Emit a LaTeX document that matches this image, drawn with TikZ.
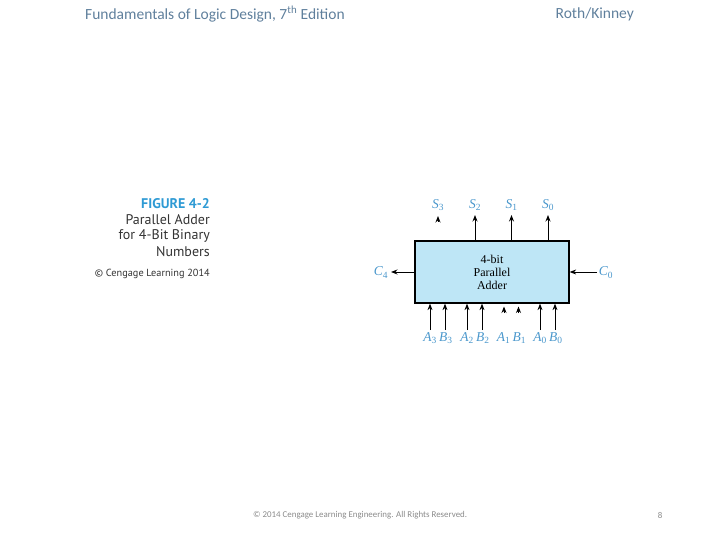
\documentclass[tikz,border=0pt]{standalone}
\usepackage{fontspec}
\setmainfont{Liberation Serif}
\newfontfamily\hdrfont{Carlito}
\newfontfamily\capfont{PT Sans}
\usetikzlibrary{arrows.meta}
\definecolor{hdrblue}{HTML}{5F7F9C}
\definecolor{lblblue}{HTML}{4A97CC}
\definecolor{figblue}{HTML}{2E9AD4}
\definecolor{boxfill}{HTML}{BEE6F6}
\definecolor{capgray}{HTML}{333333}
\definecolor{footgray}{HTML}{8A8A8A}
\newcommand{\sig}[2]{\textit{#1}\textsubscript{#2}}
\tikzset{
  arr/.style={-{Stealth[length=6.5pt,width=5pt]}, line width=0.9pt},
  lbl/.style={text=lblblue, font=\fontsize{13.5}{15}\selectfont, inner sep=0pt},
  hdr/.style={text=hdrblue, font=\hdrfont\fontsize{15.5}{17}\selectfont, inner sep=0pt},
  captext/.style={text=capgray, font=\capfont\fontsize{14}{16}\selectfont, inner sep=0pt, anchor=east},
  foot/.style={text=footgray, font=\hdrfont\fontsize{8.9}{10}\selectfont, inner sep=0pt},
  adder/.style={draw=black, line width=1.3pt, fill=boxfill, minimum width=154pt, minimum height=62pt, inner sep=0pt, align=center, font=\fontsize{12}{13}\selectfont}
}
\begin{document}
\begin{tikzpicture}[x=1pt,y=-1pt]
\useasboundingbox (0,0) rectangle (720,540);
% header and footer
\node[hdr, anchor=west] (title) at (85,14) {Fundamentals of Logic Design, 7\textsuperscript{th} Edition};
\node[hdr, anchor=east] (auth) at (634,14) {Roth/Kinney};
\node[foot, anchor=west] (copy) at (253,515) {© 2014 Cengage Learning Engineering. All Rights Reserved.};
\node[foot] (page) at (660,515) {8};
% caption
\node[captext, text=figblue, font=\capfont\bfseries\fontsize{14}{16}\selectfont] (fig) at (210,204) {FIGURE 4-2};
\node[captext] (c1) at (210,220) {Parallel Adder};
\node[captext] (c2) at (210,236) {for 4-Bit Binary};
\node[captext] (c3) at (210,252) {Numbers};
\node[captext, font=\capfont\fontsize{10.3}{12}\selectfont] (c4) at (210,274) {© Cengage Learning 2014};
% adder box
\node[adder] (box) at (492,272) {4-bit\\Parallel\\Adder};
% sum outputs
\coordinate (s3b) at (438,222);
\coordinate (s3t) at (438,216);
\coordinate (s2t) at (475,215);
\coordinate (s1t) at (511.5,215);
\coordinate (s0t) at (548,215);
\draw[arr] (s3b) -- (s3t);
\draw[arr] (box.north -| s2t) -- (s2t);
\draw[arr] (box.north -| s1t) -- (s1t);
\draw[arr] (box.north -| s0t) -- (s0t);
\node[lbl] (ls3) at (438,205) {\sig{S}{3}};
\node[lbl] (ls2) at (475,205) {\sig{S}{2}};
\node[lbl] (ls1) at (511.5,205) {\sig{S}{1}};
\node[lbl] (ls0) at (548,205) {\sig{S}{0}};
% carries
\coordinate (c4e) at (391,272);
\coordinate (c0s) at (597,272);
\draw[arr] (box.west) -- (c4e);
\draw[arr] (c0s) -- (box.east);
\node[lbl] (lc4) at (381,272.5) {\sig{C}{4}};
\node[lbl] (lc0) at (606,272.5) {\sig{C}{0}};
% inputs
\foreach \n/\x in {a3/430,b3/445,a2/467,b2/482,a0/540,b0/555}{
  \coordinate (\n) at (\x,330);
  \draw[arr] (\n) -- (box.south -| \n);
}
\coordinate (a1b) at (504,313);
\coordinate (a1t) at (504,306.5);
\coordinate (b1b) at (518.5,313);
\coordinate (b1t) at (518.5,306.5);
\draw[arr] (a1b) -- (a1t);
\draw[arr] (b1b) -- (b1t);
\node[lbl] (la3) at (438,338) {\sig{A}{3}\,\sig{B}{3}};
\node[lbl] (la2) at (475,338) {\sig{A}{2}\,\sig{B}{2}};
\node[lbl] (la1) at (511.5,338) {\sig{A}{1}\,\sig{B}{1}};
\node[lbl] (la0) at (548,338) {\sig{A}{0}\,\sig{B}{0}};
\end{tikzpicture}
\end{document}
